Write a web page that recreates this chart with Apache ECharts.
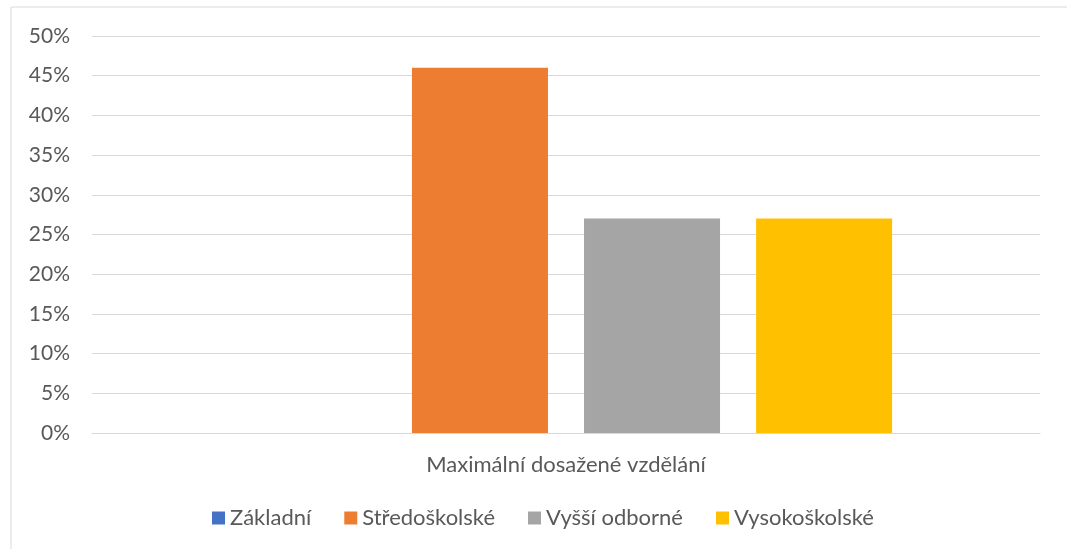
<!DOCTYPE html>
<html>
<head>
<meta charset="utf-8">
<script src="https://cdn.jsdelivr.net/npm/echarts@6/dist/echarts.min.js"></script>
<style>
  html, body { margin: 0; padding: 0; background: #fff; }
  #chart { width: 1067px; height: 549px; }
</style>
</head>
<body>
<div id="chart"></div>
<script>
  // data
  var categories = ['Maximální dosažené vzdělání'];
  var seriesNames = ['Základní', 'Středoškolské', 'Vyšší odborné', 'Vysokoškolské'];
  var seriesValues = [[0], [46], [27], [27]];
  var colors = ['#4472C4', '#ED7D31', '#A5A5A5', '#FFC000'];

  var font = 'Lato, "Open Sans", sans-serif';
  var textColor = '#595959';

  var chart = echarts.init(document.getElementById('chart'));

  var series = seriesNames.map(function(name, i) {
    return {
      name: name,
      type: 'bar',
      data: seriesValues[i],
      itemStyle: { color: colors[i] },
      barGap: '26.5%',
      barCategoryGap: '31.2%'
    };
  });

  chart.setOption({
    animation: false,
    textStyle: { fontFamily: font },
    graphic: [{
      type: 'rect',
      shape: { x: 11, y: 7, width: 1200, height: 700 },
      style: { fill: 'none', stroke: '#d9d9d9', lineWidth: 1 },
      silent: true
    }],
    grid: { left: 92, right: 27, top: 36, bottom: 116 },
    legend: {
      top: 507,
      left: 212,
      padding: 0,
      itemWidth: 13,
      itemHeight: 13,
      itemGap: 33,
      icon: 'rect',
      textStyle: { fontSize: 22, color: textColor, fontFamily: font },
      data: seriesNames
    },
    xAxis: {
      type: 'category',
      data: categories,
      axisLine: { lineStyle: { color: '#d9d9d9' } },
      axisTick: { show: false },
      axisLabel: { fontSize: 22, color: textColor, margin: 21, fontFamily: font }
    },
    yAxis: {
      type: 'value',
      min: 0,
      max: 50,
      interval: 5,
      axisLine: { show: false },
      axisTick: { show: false },
      splitLine: { lineStyle: { color: '#d9d9d9' } },
      axisLabel: { formatter: '{value}%', fontSize: 21, color: textColor, margin: 22, fontFamily: font }
    },
    series: series
  });
</script>
</body>
</html>
